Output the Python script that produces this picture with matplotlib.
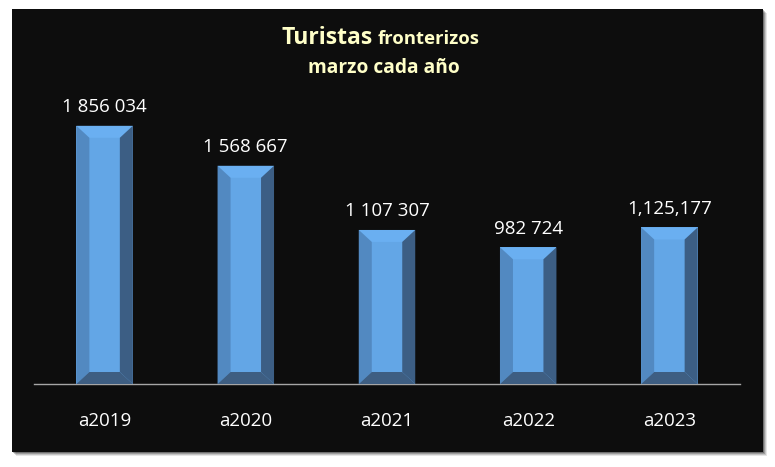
import matplotlib
matplotlib.use("Agg")
import matplotlib.pyplot as plt
from matplotlib.patches import Rectangle, Polygon

categories = ["a2019", "a2020", "a2021", "a2022", "a2023"]
values = [1856034, 1568667, 1107307, 982724, 1125177]
value_labels = ["1 856 034", "1 568 667", "1 107 307", "982 724", "1,125,177"]

W, H = 775, 467
fig = plt.figure(figsize=(W / 100, H / 100), dpi=100)
fig.patch.set_facecolor("white")

# panel with soft shadow
for i, a in enumerate([0.10, 0.14, 0.20, 0.28]):
    off = 4 - i
    fig.patches.append(Rectangle(((12 + off) / W, 1 - (452 + off) / H), 751 / W, 443 / H,
                                 transform=fig.transFigure, facecolor="black", alpha=a,
                                 edgecolor="none", zorder=0))
fig.patches.append(Rectangle((12 / W, 1 - 452 / H), 751 / W, 443 / H,
                             transform=fig.transFigure, facecolor="#0D0D0D",
                             edgecolor="none", zorder=1))

ax_left, ax_right, ax_bottom, ax_top = 34, 740, 384, 100
ax = fig.add_axes([ax_left / W, 1 - ax_bottom / H, (ax_right - ax_left) / W, (ax_bottom - ax_top) / H])
ax.set_facecolor("none")
ax.set_zorder(2)
n = len(categories)
ymax = max(values) * 1.1
ax.set_xlim(-0.5, n - 0.5)
ax.set_ylim(0, ymax)

bw = 0.40
bars = ax.bar(range(n), values, width=bw, color="#63A6E6", edgecolor="none", zorder=2)

# bevel sizes in pixels converted to data units
px_x = (ax_right - ax_left) / n
px_y = (ax_bottom - ax_top) / ymax
bx = 13 / px_x
by = 12 / px_y
for i, v in enumerate(values):
    x0, x1 = i - bw / 2, i + bw / 2
    faces = [
        ([(x0, v), (x1, v), (x1 - bx, v - by), (x0 + bx, v - by)], "#6AAFF1"),
        ([(x0, v), (x0 + bx, v - by), (x0 + bx, by), (x0, 0)], "#5289C1"),
        ([(x1, v), (x1 - bx, v - by), (x1 - bx, by), (x1, 0)], "#3C5E84"),
        ([(x0, 0), (x0 + bx, by), (x1 - bx, by), (x1, 0)], "#3E5E82"),
    ]
    for pts, c in faces:
        ax.add_patch(Polygon(pts, closed=True, facecolor=c, edgecolor="none", zorder=3))
    ax.annotate(value_labels[i], xy=(i, v), xytext=(0, 7), textcoords="offset points",
                ha="center", va="bottom", color="white", fontsize=13.5, family="Open Sans")

ax.set_xticks(range(n))
ax.set_xticklabels(categories, color="white", fontsize=13.5, family="Open Sans")
ax.tick_params(axis="x", length=0, pad=20)
ax.set_yticks([])
for s in ["top", "left", "right"]:
    ax.spines[s].set_visible(False)
ax.spines["bottom"].set_color("#A6A6A6")
ax.spines["bottom"].set_linewidth(1)

tc = "#FFFFC8"
fig.text(373 / W, 1 - 43.5 / H, "Turistas", ha="right", va="baseline", color=tc,
         fontsize=16.5, fontweight="bold", family="Open Sans", zorder=5)
fig.text(378 / W, 1 - 43.5 / H, "fronterizos", ha="left", va="baseline", color=tc,
         fontsize=13.3, fontweight="bold", family="Open Sans", zorder=5)
fig.text(383.5 / W, 1 - 72.7 / H, "marzo cada año", ha="center", va="baseline", color=tc,
         fontsize=13.8, fontweight="bold", family="Open Sans", zorder=5)

fig.savefig("out.png", dpi=100, facecolor=fig.get_facecolor())
